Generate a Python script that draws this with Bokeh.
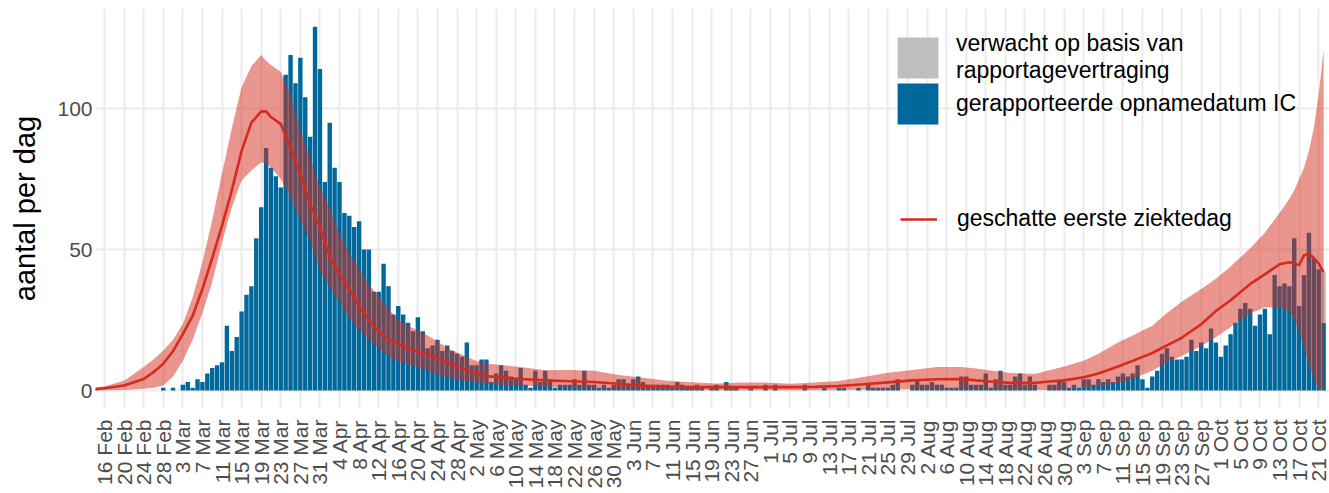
import math
from bokeh.plotting import figure
from bokeh.models import Range1d, FixedTicker, Legend, LegendItem
from bokeh.embed import file_html
from bokeh.resources import INLINE

# ---------------- data (day index 0 = 16 Feb 2020) ----------------
tick_days = list(range(0, 249, 4))
tick_labels = [
    "16 Feb", "20 Feb", "24 Feb", "28 Feb", "3 Mar", "7 Mar", "11 Mar", "15 Mar",
    "19 Mar", "23 Mar", "27 Mar", "31 Mar", "4 Apr", "8 Apr", "12 Apr", "16 Apr",
    "20 Apr", "24 Apr", "28 Apr", "2 May", "6 May", "10 May", "14 May", "18 May",
    "22 May", "26 May", "30 May", "3 Jun", "7 Jun", "11 Jun", "15 Jun", "19 Jun",
    "23 Jun", "27 Jun", "1 Jul", "5 Jul", "9 Jul", "13 Jul", "17 Jul", "21 Jul",
    "25 Jul", "29 Jul", "2 Aug", "6 Aug", "10 Aug", "14 Aug", "18 Aug", "22 Aug",
    "26 Aug", "30 Aug", "3 Sep", "7 Sep", "11 Sep", "15 Sep", "19 Sep", "23 Sep",
    "27 Sep", "1 Oct", "5 Oct", "9 Oct", "13 Oct", "17 Oct", "21 Oct",
]

bar_days = list(range(0, 250))
reported_ic = [
    0, 0, 0, 0, 0, 0, 0, 0, 0, 0, 0, 0,
    1, 0, 1, 0, 2, 3, 1, 4, 3,
    6, 8, 9, 10, 23, 14, 19, 28, 34, 37,
    54, 65, 86, 79, 76, 72, 112, 119, 109, 118,
    104, 90, 129, 114, 74, 95, 79, 74, 63, 62,
    58, 60, 50, 50, 35, 35, 45, 37, 27, 30,
    27, 24, 21, 26, 21, 15, 16, 18, 14, 16,
    14, 13, 12, 17, 9, 9, 11, 11, 3, 6,
    9, 7, 5, 4, 8, 2, 1, 7, 3, 7,
    4, 1, 2, 2, 2, 4, 2, 7, 2, 2,
    1, 2, 1, 2, 4, 4, 2, 4, 5, 3,
    2, 2, 2, 2, 2, 1, 3, 2, 1, 1,
    2, 1, 0, 1, 2, 0, 3, 1, 1, 0,
    0, 1, 0, 0, 2, 0, 2, 0, 0, 0,
    0, 0, 2, 0, 0, 0, 1, 0, 0, 1,
    1, 0, 0, 1, 0, 2, 1, 1, 1, 1,
    2, 4, 0, 0, 2, 4, 2, 2, 3, 2,
    2, 1, 1, 1, 5, 5, 2, 2, 2, 6,
    1, 4, 7, 2, 2, 5, 6, 2, 5, 2,
    0, 0, 2, 2, 3, 3, 1, 2, 1, 4,
    4, 2, 4, 3, 4, 3, 5, 6, 5, 6,
    9, 4, 1, 5, 7, 13, 15, 12, 11, 11,
    12, 18, 14, 17, 15, 22, 17, 12, 16, 20,
    24, 29, 31, 29, 23, 27, 29, 20, 41, 37,
    38, 37, 54, 30, 41, 56, 47, 43, 24,
]
expected_delay = [0] * 249 + [18]

est_days = [-2, 0, 4, 8, 10, 12, 14, 16, 18, 20, 22, 24, 26, 28, 30, 32, 33, 34,
            36, 38, 40, 42, 44, 46, 48, 50, 52, 54, 56, 58, 60, 62, 64, 66, 68,
            70, 72, 74, 76, 78, 80, 85, 90, 95, 100, 105, 110, 115, 120, 125,
            130, 135, 140, 145, 150, 155, 160, 165, 170, 175, 178, 181, 185, 190,
            193, 196, 200, 203, 207, 210, 214, 217, 220, 224, 227, 230, 234, 237,
            240, 242, 243, 244, 245, 246, 247, 248, 249]
est_mid = [0.5, 0.8, 1.8, 4.1, 6.5, 9.5, 14, 20, 26.5, 36, 47, 58.5, 71, 85, 95,
           99, 99, 97, 94.5, 86, 77, 66, 58, 47.5, 41, 36, 30, 25, 21, 18, 16.5,
           15, 13.8, 12.8, 11.5, 9.7, 8.5, 7.2, 6.1, 5.1, 4.8, 4.1, 3.6, 3.3, 3.0,
           2.4, 1.7, 1.4, 1.2, 1.2, 1.2, 1.2, 1.2, 1.3, 1.6, 2.2, 2.9, 3.6, 4.0,
           4.1, 3.6, 3.2, 2.7, 2.7, 3.2, 3.6, 4.7, 6.0, 8.5, 10.5, 13.3, 16, 18.7,
           23.5, 28.2, 32, 37.8, 41.2, 44.8, 45.5, 45, 44.5, 48, 48.5, 47, 45, 42]
est_low = [0.0, 0.1, 0.2, 0.6, 1.0, 1.8, 5, 10.6, 18, 27.5, 38.5, 52.5, 65, 74.5,
           78, 81, 80.5, 79, 75, 68.6, 60.3, 53.2, 42.5, 36.5, 31.5, 25.5, 21.5,
           18, 15, 12.2, 10.3, 9.2, 8.3, 7.0, 5.8, 4.6, 3.9, 3.3, 2.8, 2.4, 2.1,
           1.8, 1.3, 1.0, 0.6, 0.5, 0.3, 0.2, 0.2, 0.1, 0.1, 0.1, 0.1, 0.1, 0.2,
           0.3, 0.4, 0.5, 0.5, 0.5, 0.5, 0.4, 0.3, 0.2, 0.2, 0.5, 1.0, 1.6, 2.6,
           4.2, 7.0, 10.0, 12.2, 15.8, 18.9, 22.5, 27.3, 29.5, 29.5, 28, 25, 21,
           15, 9, 4, 0.5, 0]
est_high = [1.0, 1.5, 3.5, 8.3, 11, 14.2, 18, 23.6, 33, 45.5, 60.5, 77, 93, 107.6,
            115, 119, 117, 115.5, 113, 105, 92, 82.7, 72, 65, 55.5, 49, 43, 37.5,
            33.5, 29, 25, 23, 21.3, 19.5, 17.5, 15, 13.5, 12, 10.5, 9.6, 9.2, 8.3,
            7.2, 7.3, 7.0, 5.5, 4.5, 3.5, 2.9, 2.5, 2.8, 2.8, 2.4, 2.8, 3.4, 4.8,
            6.3, 7.3, 8.3, 8.3, 7.8, 7.1, 6.2, 5.9, 7.2, 8.5, 10.6, 13, 17, 19.5,
            23, 27.5, 31.5, 36, 39.6, 44, 50.5, 56, 63, 68, 71, 75, 79, 85, 93,
            105, 121]

# ---------------- styling ----------------
BLUE = "#01689B"
GREY = "#BEBEBE"
RED = "#D52B1E"
FONT = "Liberation Sans"

p = figure(width=1329, height=493, output_backend="svg", toolbar_location=None,
           x_range=Range1d(-1.84, 250.2), y_range=Range1d(-6.38, 135.5),
           min_border_left=95, min_border_right=0, min_border_top=8,
           min_border_bottom=85)
p.outline_line_color = None
p.background_fill_color = "white"
p.border_fill_color = "white"

blue_top = reported_ic
grey_top = [a + b for a, b in zip(reported_ic, expected_delay)]

r_blue = p.vbar(x=bar_days, top=blue_top, width=0.9, fill_color=BLUE, line_color=None)
r_grey = p.vbar(x=bar_days, bottom=blue_top, top=grey_top, width=0.9,
                fill_color=GREY, line_color=None)
p.varea(x=est_days, y1=est_low, y2=est_high, fill_color=RED, fill_alpha=0.5)
r_line = p.line(x=est_days, y=est_mid, line_color=RED, line_width=2.6)

# axes
p.xaxis.ticker = FixedTicker(ticks=tick_days)
p.xaxis.major_label_overrides = {d: l for d, l in zip(tick_days, tick_labels)}
p.xaxis.major_label_orientation = math.pi / 2
p.yaxis.ticker = FixedTicker(ticks=[0, 50, 100])
for ax in (p.xaxis[0], p.yaxis[0]):
    ax.axis_line_color = None
    ax.major_tick_line_color = None
    ax.minor_tick_line_color = None
    ax.major_tick_out = 0
    ax.major_tick_in = 0
    ax.minor_tick_out = 0
    ax.minor_tick_in = 0
    ax.major_label_text_font = FONT
    ax.major_label_text_font_size = "21px"
    ax.major_label_text_color = "#4D4D4D"
p.xaxis.major_label_standoff = 11
p.yaxis.major_label_standoff = 3
p.yaxis.axis_label = "aantal per dag"
p.yaxis.axis_label_text_font = FONT
p.yaxis.axis_label_text_font_size = "29px"
p.yaxis.axis_label_text_font_style = "normal"
p.yaxis.axis_label_text_color = "black"
p.yaxis.axis_label_standoff = 13

p.xgrid.grid_line_color = "#EBEBEB"
p.xgrid.grid_line_width = 2
p.ygrid.grid_line_color = "#EBEBEB"
p.ygrid.grid_line_width = 2

# legends
legend_style = dict(padding=0, margin=0, border_line_color=None, background_fill_alpha=0,
                    label_text_font=FONT, label_text_font_size="23px",
                    label_text_color="black")
leg_grey = Legend(items=[LegendItem(label="verwacht op basis van\nrapportagevertraging",
                                    renderers=[r_grey])],
                  location=(797, 324), glyph_width=51, glyph_height=51,
                  label_standoff=13, label_text_line_height=0.95, **legend_style)
leg_blue = Legend(items=[LegendItem(label="gerapporteerde opnamedatum IC",
                                    renderers=[r_blue])],
                  location=(797, 279), glyph_width=51, glyph_height=51,
                  label_standoff=13, **legend_style)
leg_line = Legend(items=[LegendItem(label="geschatte eerste ziektedag", renderers=[r_line])],
                  location=(805, 176), glyph_width=37, glyph_height=20,
                  label_standoff=20, **legend_style)
p.add_layout(leg_grey)
p.add_layout(leg_blue)
p.add_layout(leg_line)

open("out.html", "w").write(file_html(p, INLINE))
